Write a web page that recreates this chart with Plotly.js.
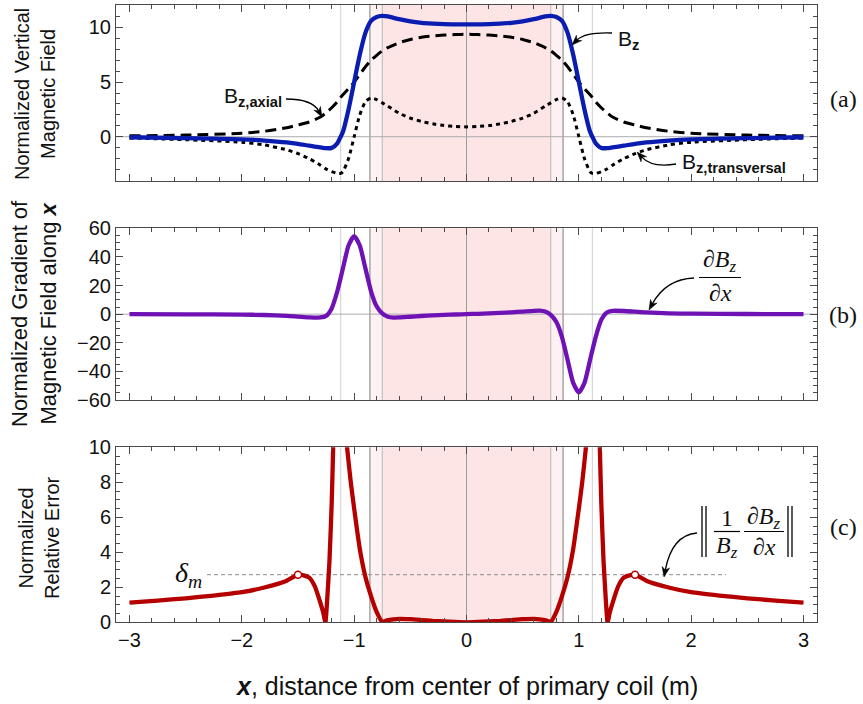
<!DOCTYPE html>
<html>
<head>
<meta charset="utf-8">
<script src="https://cdn.plot.ly/plotly-3.0.1.min.js"></script>
<style>html,body{margin:0;padding:0;background:#fff;}#chart{width:863px;height:704px;}</style>
</head>
<body>
<div id="chart"></div>
<script>
// ---------------- data ----------------
const xField = [-3,-2.5,-2,-1.8,-1.6,-1.5,-1.4,-1.3,-1.25,-1.2,-1.15,-1.12,-1.1,-1.05,-1,-0.95,-0.9,-0.85,-0.8,-0.75,-0.7,-0.6,-0.5,-0.4,-0.3,-0.2,-0.1,0,0.1,0.2,0.3,0.4,0.5,0.6,0.7,0.75,0.8,0.85,0.9,0.95,1,1.05,1.1,1.12,1.15,1.2,1.25,1.3,1.4,1.5,1.6,1.8,2,2.5,3];
const bzTotal = [-0.05,-0.12,-0.24,-0.35,-0.52,-0.65,-0.82,-0.98,-1.05,-1.02,-0.6,0.0,0.45,2.5,5.0,7.5,9.5,10.6,10.95,11.05,11.0,10.75,10.55,10.42,10.35,10.3,10.28,10.27,10.28,10.3,10.35,10.42,10.55,10.75,11.0,11.05,10.95,10.6,9.5,7.5,5.0,2.5,0.45,0.0,-0.6,-1.02,-1.05,-0.98,-0.82,-0.65,-0.52,-0.35,-0.24,-0.12,-0.05];
const bzAxial = [0.08,0.15,0.32,0.5,0.82,1.07,1.35,1.8,2.2,2.65,3.2,3.6,3.85,4.4,5.0,5.7,6.4,7.0,7.45,7.85,8.15,8.6,8.9,9.1,9.22,9.3,9.35,9.37,9.35,9.3,9.22,9.1,8.9,8.6,8.15,7.85,7.45,7.0,6.4,5.7,5.0,4.4,3.85,3.6,3.2,2.65,2.2,1.8,1.35,1.07,0.82,0.5,0.32,0.15,0.08];
const bzTransversal = [-0.12,-0.27,-0.5,-0.75,-1.2,-1.55,-2.0,-2.6,-2.95,-3.2,-3.35,-3.35,-3.2,-2.0,0.0,2.0,3.2,3.55,3.4,3.1,2.8,2.15,1.7,1.4,1.18,1.02,0.94,0.9,0.94,1.02,1.18,1.4,1.7,2.15,2.8,3.1,3.4,3.55,3.2,2.0,0.0,-2.0,-3.2,-3.35,-3.35,-3.2,-2.95,-2.6,-2.0,-1.55,-1.2,-0.75,-0.5,-0.27,-0.12];

const xGrad = [-3,-2.5,-2,-1.8,-1.6,-1.5,-1.4,-1.3,-1.25,-1.2,-1.15,-1.1,-1.05,-1,-0.95,-0.9,-0.85,-0.8,-0.75,-0.7,-0.65,-0.6,-0.5,-0.4,-0.3,-0.2,-0.1,0,0.1,0.2,0.3,0.4,0.5,0.6,0.65,0.7,0.75,0.8,0.85,0.9,0.95,1,1.05,1.1,1.15,1.2,1.25,1.3,1.4,1.5,1.6,1.8,2,2.5,3];
const gradBz = [0,-0.1,-0.3,-0.6,-1.2,-1.7,-2.2,-2.3,-1.2,4,16,32,48,54.6,48,32,16,5.5,0.5,-1.8,-2.4,-2.3,-1.8,-1.3,-0.9,-0.55,-0.25,0,0.25,0.55,0.9,1.3,1.8,2.3,2.4,1.8,-0.5,-5.5,-16,-32,-48,-54.6,-48,-32,-16,-4,1.2,2.3,2.2,1.7,1.2,0.6,0.3,0.1,0];

const xErr = [-3,-2.75,-2.5,-2.25,-2,-1.8,-1.6,-1.5,-1.45,-1.4,-1.35,-1.3,-1.275,-1.256,-1.24,-1.22,-1.2,-1.185,-1.17,-1.09,-1.075,-1.06,-1.03,-1,-0.95,-0.9,-0.85,-0.8,-0.75,-0.7,-0.6,-0.5,-0.4,-0.3,-0.2,-0.1,0,0.1,0.2,0.3,0.4,0.5,0.6,0.7,0.75,0.8,0.85,0.9,0.95,1,1.03,1.06,1.075,1.09,1.17,1.185,1.2,1.22,1.24,1.256,1.275,1.3,1.35,1.4,1.45,1.5,1.6,1.8,2,2.25,2.5,2.75,3];
const relErr = [1.12,1.24,1.37,1.53,1.72,1.99,2.38,2.72,2.68,2.55,2.05,1.1,0.55,0,1.3,3.5,6.8,10.5,15,15,11,9.8,8.0,6.5,4.2,2.6,1.5,0.6,0.03,0.12,0.2,0.18,0.13,0.08,0.05,0.02,0,0.02,0.05,0.08,0.13,0.18,0.2,0.12,0.03,0.6,1.5,2.6,4.2,6.5,8.0,9.8,11,15,15,10.5,6.8,3.5,1.3,0,0.55,1.1,2.05,2.55,2.68,2.72,2.38,1.99,1.72,1.53,1.37,1.24,1.12];

const deltaX = [-1.5, 1.5];
const deltaY = [2.72, 2.72];
const deltaLineX = [-2.31, 2.31];

const coilInner = 0.75, coilOuter = 0.86, zeroCross = 1.12;

const xTickVals = [-3,-2,-1,0,1,2,3];
const yTicksA = [0,5,10];
const yTicksB = [-60,-40,-20,0,20,40,60];
const yTicksC = [0,2,4,6,8,10];

// ---------------- layout helpers ----------------
const W = 863, H = 704;
const PX = x => x / W;
const PY = y => 1 - y / H;
const SANS = 'Liberation Sans, Arial, sans-serif';
const SERIF = 'Liberation Serif, Times New Roman, serif';
const FRAME = '#4a4a4a';
const xDom = [116 / W, 817 / W];
const xRange = [-3.12, 3.12];

function xAxis(anchor, labels) {
  return {
    domain: xDom, range: xRange, anchor: anchor,
    showgrid: false, zeroline: false, showline: true, linecolor: FRAME, linewidth: 1,
    mirror: 'ticks', ticks: 'inside', ticklen: 7, tickcolor: FRAME, tickwidth: 1,
    tickmode: 'array', tickvals: xTickVals, showticklabels: labels,
    minor: {ticks: 'inside', ticklen: 4, dtick: 0.2, tick0: 0, tickcolor: FRAME, showgrid: false},
    tickfont: {family: SANS, size: 20, color: '#111'}
  };
}
function yAxis(anchor, dom, range, vals, minorStep) {
  return {
    domain: dom, range: range, anchor: anchor,
    showgrid: false, zeroline: false, showline: true, linecolor: FRAME, linewidth: 1,
    mirror: 'ticks', ticks: 'inside', ticklen: 7, tickcolor: FRAME, tickwidth: 1,
    tickmode: 'array', tickvals: vals,
    minor: {ticks: 'inside', ticklen: 4, dtick: minorStep, tick0: 0, tickcolor: FRAME, showgrid: false},
    tickfont: {family: SANS, size: 20, color: '#111'}
  };
}

function panelShapes(xr, yr, withZero) {
  const yd = yr + ' domain';
  const s = [];
  s.push({type: 'rect', xref: xr, yref: yd, x0: -coilOuter, x1: coilOuter, y0: 0, y1: 1, fillcolor: '#fdf1f1', line: {width: 0}, layer: 'below'});
  s.push({type: 'rect', xref: xr, yref: yd, x0: -coilInner, x1: coilInner, y0: 0, y1: 1, fillcolor: '#fde5e6', line: {width: 0}, layer: 'below'});
  const vlines = [[-zeroCross, '#cfcfcf', 1], [-coilOuter, '#a0a0a0', 1.4], [-coilInner, '#b8b8b8', 1], [0, '#9c9c9c', 1],
                  [coilInner, '#b8b8b8', 1], [coilOuter, '#a0a0a0', 1.4], [zeroCross, '#cfcfcf', 1]];
  vlines.forEach(v => s.push({type: 'line', xref: xr, yref: yd, x0: v[0], x1: v[0], y0: 0, y1: 1, line: {color: v[1], width: v[2]}, layer: 'below'}));
  if (withZero) {
    s.push({type: 'line', xref: xr + ' domain', yref: yr, x0: 0, x1: 1, y0: 0, y1: 0, line: {color: '#ababab', width: 1}, layer: 'below'});
  }
  return s;
}

const shapes = [].concat(panelShapes('x', 'y', true), panelShapes('x2', 'y2', true), panelShapes('x3', 'y3', false));
const annotations = [];
// curved arrow: quadratic path + filled arrowhead, all in paper coordinates
function curvedArrow(sx, sy, cx, cy, tx, ty) {
  const dx = tx - cx, dy = ty - cy, L = Math.hypot(dx, dy);
  const ux = dx / L, uy = dy / L;
  const hl = 10, hw = 3.8;
  const bx = tx - ux * hl, by = ty - uy * hl;
  const nx = -uy, ny = ux;
  const mx = tx - ux * hl * 0.7, my = ty - uy * hl * 0.7;
  shapes.push({type: 'path', xref: 'paper', yref: 'paper',
    path: `M ${PX(sx)},${PY(sy)} Q ${PX(cx)},${PY(cy)} ${PX(mx)},${PY(my)}`,
    line: {color: '#000', width: 1.3}});
  shapes.push({type: 'path', xref: 'paper', yref: 'paper',
    path: `M ${PX(tx)},${PY(ty)} L ${PX(bx + nx * hw)},${PY(by + ny * hw)} L ${PX(mx)},${PY(my)} L ${PX(bx - nx * hw)},${PY(by - ny * hw)} Z`,
    fillcolor: '#000', line: {color: '#000', width: 0.5}});
}
function txt(x, y, text, font, xanchor, extra) {
  annotations.push(Object.assign({xref: 'paper', yref: 'paper', x: PX(x), y: PY(y), text: text, showarrow: false,
    xanchor: xanchor || 'center', yanchor: 'middle', font: font}, extra || {}));
}
function hline(x0, x1, y, w) {
  shapes.push({type: 'line', xref: 'paper', yref: 'paper', x0: PX(x0), x1: PX(x1), y0: PY(y), y1: PY(y), line: {color: '#000', width: w || 1.2}});
}
function vline(x, y0, y1, w) {
  shapes.push({type: 'line', xref: 'paper', yref: 'paper', x0: PX(x), x1: PX(x), y0: PY(y0), y1: PY(y1), line: {color: '#000', width: w || 1.2}});
}

// delta_m reference line
shapes.push({type: 'line', xref: 'x3', yref: 'y3', x0: deltaLineX[0], x1: deltaLineX[1], y0: deltaY[0], y1: deltaY[0],
  line: {color: '#8a8a8a', width: 1, dash: '4px,3px'}, layer: 'below'});

const labFont = {family: SANS, size: 21, color: '#111'};
const mathFont = {family: SERIF, size: 24, color: '#111'};

// panel (a) labels
txt(284, 97, 'B<sub><b>z,axial</b></sub>', labFont, 'right');
curvedArrow(286, 99, 312, 99, 322, 117);
txt(616, 40, 'B<sub><b>z</b></sub>', labFont, 'left');
curvedArrow(612, 33, 585, 32, 572, 45);
txt(680, 163, 'B<sub><b>z,transversal</b></sub>', labFont, 'left');
curvedArrow(676, 164, 652, 168, 637, 152);

// panel (b) fraction
txt(720, 261, '<i>∂B</i><sub><i>z</i></sub>', mathFont);
hline(699, 741, 277.5);
txt(720, 293, '<i>∂x</i>', mathFont);
curvedArrow(694, 278, 666, 279, 649, 310);

// panel (c) norm expression
txt(727, 518, '1', mathFont);
hline(714, 740, 531.5);
txt(727, 547, '<i>B</i><sub><i>z</i></sub>', mathFont);
txt(764, 518, '<i>∂B</i><sub><i>z</i></sub>', mathFont);
hline(744, 784, 531.5);
txt(764, 547, '<i>∂x</i>', mathFont);
[702, 706, 788, 792].forEach(x => vline(x, 506, 557, 1.3));
curvedArrow(697, 533, 672, 535, 664, 577);
txt(188, 574, '<i>δ</i><sub><i>m</i></sub>', {family: SERIF, size: 28, color: '#111'});

// panel tags
const tagFont = {family: SERIF, size: 24, color: '#111'};
txt(843, 99, '(a)', tagFont);
txt(843, 315, '(b)', tagFont);
txt(843, 527, '(c)', tagFont);

// axis titles
const titleFont = {family: SANS, size: 20, color: '#111'};
txt(35, 94, 'Normalized Vertical<br>Magnetic Field', titleFont, 'center', {textangle: -90});
txt(34, 314, 'Normalized Gradient of<br>Magnetic Field along <b><i>x</i></b>', {family: SANS, size: 22, color: '#111'}, 'center', {textangle: -90});
txt(39, 538, 'Normalized<br>Relative Error', titleFont, 'center', {textangle: -90});
txt(466, 686, '<b><i>x</i></b>, distance from center of primary coil (m)', {family: SANS, size: 25, color: '#111'});

const traces = [
  {x: xField, y: bzAxial, xaxis: 'x', yaxis: 'y', mode: 'lines', line: {color: '#000', width: 3, dash: '11px,6px', shape: 'spline', smoothing: 0.6}, name: 'Bz,axial'},
  {x: xField, y: bzTransversal, xaxis: 'x', yaxis: 'y', mode: 'lines', line: {color: '#000', width: 3, dash: '4px,4px', shape: 'spline', smoothing: 0.6}, name: 'Bz,transversal'},
  {x: xField, y: bzTotal, xaxis: 'x', yaxis: 'y', mode: 'lines', line: {color: '#0b1db0', width: 4.3, shape: 'spline', smoothing: 0.6}, name: 'Bz'},
  {x: xGrad, y: gradBz, xaxis: 'x2', yaxis: 'y2', mode: 'lines', line: {color: '#6f12b5', width: 4.3, shape: 'spline', smoothing: 0.6}, name: 'dBz/dx'},
  {x: xErr, y: relErr, xaxis: 'x3', yaxis: 'y3', mode: 'lines', line: {color: '#b50000', width: 4.3, shape: 'spline', smoothing: 0.5}, name: 'rel err'},
  {x: deltaX, y: deltaY, xaxis: 'x3', yaxis: 'y3', mode: 'markers', marker: {symbol: 'circle', size: 7, color: '#fff', line: {color: '#b50000', width: 1.5}}, name: 'delta m', cliponaxis: false}
];

const layout = {
  width: W, height: H, margin: {l: 0, r: 0, t: 0, b: 0},
  paper_bgcolor: '#fff', plot_bgcolor: 'rgba(0,0,0,0)', showlegend: false,
  xaxis: xAxis('y', false),
  yaxis: yAxis('x', [1 - 181 / H, 1 - 5 / H], [-4.05, 12.05], yTicksA, 1),
  xaxis2: xAxis('y2', false),
  yaxis2: yAxis('x2', [1 - 400 / H, 1 - 228.3 / H], [-60, 60], yTicksB, 5),
  xaxis3: xAxis('y3', true),
  yaxis3: yAxis('x3', [1 - 622.3 / H, 1 - 447.3 / H], [0, 10], yTicksC, 0.5),
  shapes: shapes, annotations: annotations
};

Plotly.newPlot('chart', traces, layout, {displayModeBar: false, staticPlot: true});
</script>
</body>
</html>
